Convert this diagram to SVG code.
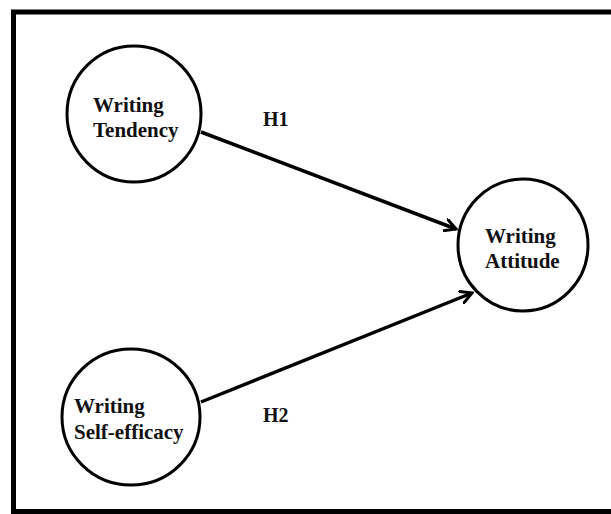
<svg xmlns="http://www.w3.org/2000/svg" width="611" height="514" viewBox="0 0 611 514">
<defs>
<style>
.node{fill:#fff;stroke:#000;stroke-width:3}
.lbl{font-family:"Liberation Serif","Times New Roman",serif;font-weight:bold;font-size:21px;fill:#111}
.h{font-family:"Liberation Serif","Times New Roman",serif;font-weight:bold;font-size:20px;fill:#111}
.edge{stroke:#000;stroke-width:3.5;fill:none}
</style>
<marker id="arr" viewBox="0 0 14 14" refX="12" refY="7" markerWidth="14" markerHeight="14" markerUnits="userSpaceOnUse" orient="auto">
<path d="M1,1 L12,7 L1,13" fill="none" stroke="#000" stroke-width="3" stroke-linecap="round" stroke-linejoin="miter"/>
</marker>
</defs>
<rect x="0" y="0" width="611" height="514" fill="#fff"/>
<rect x="13.5" y="12" width="620" height="499.5" fill="none" stroke="#000" stroke-width="5"/>
<g id="connectors">
<line class="edge" x1="201" y1="132" x2="456" y2="229" marker-end="url(#arr)"/>
<line class="edge" x1="201" y1="402" x2="472" y2="293" marker-end="url(#arr)"/>
<text class="h" x="263" y="126">H1</text>
<text class="h" x="263" y="422">H2</text>
</g>
<g id="tendency">
<ellipse class="node" cx="134" cy="114" rx="67" ry="68"/>
<text class="lbl" x="93" y="112">Writing</text>
<text class="lbl" x="93" y="137">Tendency</text>
</g>
<g id="selfefficacy">
<ellipse class="node" cx="131" cy="417" rx="69" ry="68"/>
<text class="lbl" x="74" y="413">Writing</text>
<text class="lbl" x="74" y="439">Self-efficacy</text>
</g>
<g id="attitude">
<ellipse class="node" cx="523" cy="245" rx="65" ry="66"/>
<text class="lbl" x="485" y="243">Writing</text>
<text class="lbl" x="485" y="268">Attitude</text>
</g>
</svg>
